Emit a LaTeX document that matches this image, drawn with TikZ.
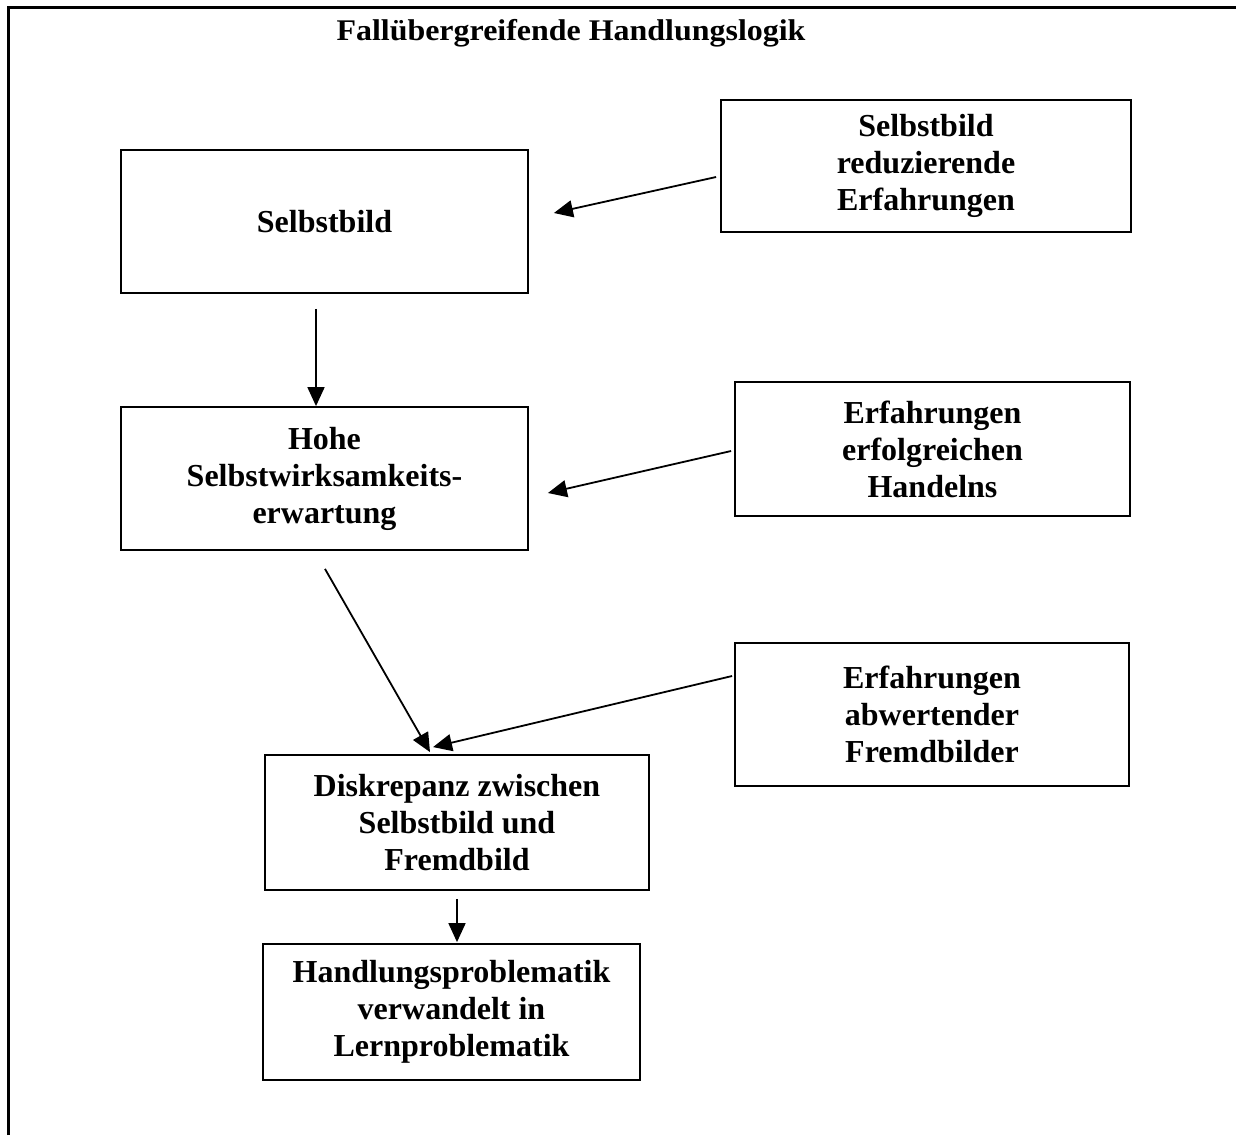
\documentclass[tikz,border=0pt]{standalone}
\usepackage{fontspec}
\setmainfont{Liberation Serif}
\usetikzlibrary{arrows.meta}
\begin{document}
\begin{tikzpicture}[x=1pt,y=-1pt,
  box/.style={draw,line width=1.8pt,inner sep=0pt,align=center,
    font=\fontsize{32}{37}\selectfont\bfseries},
  arr/.style={line width=1.8pt,-{Triangle[length=19pt,width=17pt]}},
  frame/.style={line width=3pt}]
\useasboundingbox (0,0) rectangle (1236,1135);
% frame
\coordinate (fbl) at (8,1135);
\coordinate (ftl) at (8,7);
\coordinate (ftr) at (1236,7);
\draw[frame] (fbl) -- (ftl) -- (ftr);
% title
\node[font=\fontsize{30}{33}\selectfont\bfseries] (title) at (571,33)
  {\scalebox{1.065}[1]{Fallübergreifende Handlungslogik}};
% boxes
\node[box,minimum width=407pt,minimum height=143pt] (s1) at (324.5,221.5) {Selbstbild};
\node[box,minimum width=410pt,minimum height=132pt] (s2) at (926,166) {Selbstbild\\reduzierende\\Erfahrungen};
\node[box,minimum width=407pt,minimum height=143pt] (s3) at (324.5,478.5) {Hohe\\Selbstwirksamkeits-\\erwartung};
\node[box,minimum width=395pt,minimum height=134pt] (s4) at (932.5,449) {Erfahrungen\\erfolgreichen\\Handelns};
\node[box,minimum width=394pt,minimum height=143pt] (s5) at (932,714.5) {Erfahrungen\\abwertender\\Fremdbilder};
\node[box,minimum width=384pt,minimum height=135pt] (s6) at (457,822.5) {Diskrepanz zwischen\\Selbstbild und\\Fremdbild};
\node[box,minimum width=377pt,minimum height=136pt] (s7) at (451.5,1012) {Handlungsproblematik\\verwandelt in\\Lernproblematik};
% arrows
\draw[arr] ([shift={(-4,11)}]s2.west) -- ([shift={(25,-8.5)}]s1.east);
\draw[arr] ([shift={(-8.5,15)}]s1.south) -- ([shift={(-8.5,0)}]s3.north);
\draw[arr] ([shift={(-3,2)}]s4.west) -- ([shift={(19,14.5)}]s3.east);
\draw[arr] ([shift={(0.5,18)}]s3.south) -- ([shift={(-27,-2)}]s6.north);
\draw[arr] ([shift={(-2,-38.5)}]s5.west) -- ([shift={(-24,-7)}]s6.north);
\draw[arr] ([shift={(0,8)}]s6.south) -- ([shift={(5.5,-1)}]s7.north);
\end{tikzpicture}
\end{document}
